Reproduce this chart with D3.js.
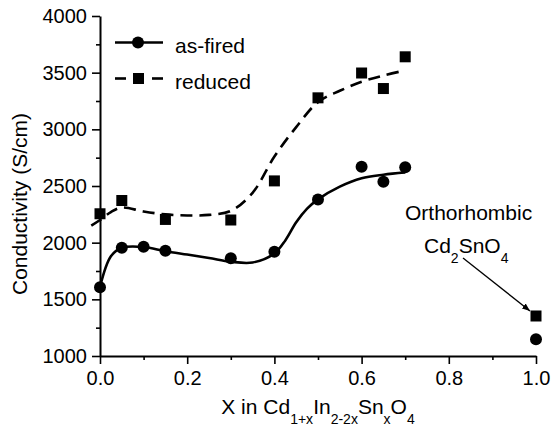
<!DOCTYPE html>
<html>
<head>
<meta charset="utf-8">
<script src="https://cdn.jsdelivr.net/npm/d3@7"></script>
<style>
  html, body { margin: 0; padding: 0; background: #fff; }
  svg { display: block; font-family: "Liberation Sans", Arial, sans-serif; }
</style>
</head>
<body>
<svg id="chart" width="554" height="429"></svg>
<script>
// Measured compositions (x) and conductivities (S/cm)
const xMeasured = [0, 0.05, 0.1, 0.15, 0.3, 0.4, 0.5, 0.6, 0.65, 0.7, 1.0];
const asFired   = [1606, 1956, 1965, 1929, 1862, 1920, 2380, 2670, 2538, 2665, 1147];
const xReduced  = [0, 0.05, 0.15, 0.3, 0.4, 0.5, 0.6, 0.65, 0.7, 1.0];
const reduced   = [2255, 2372, 2205, 2200, 2545, 3278, 3497, 3360, 3640, 1353];

// Smoothed trend curves through the cubic-phase region (x <= 0.7)
const fitXAsFired = [0, 0.025, 0.05, 0.1, 0.15, 0.2, 0.25, 0.3, 0.35, 0.4, 0.425, 0.45, 0.475, 0.5, 0.55, 0.6, 0.65, 0.7];
const fitAsFired  = [1610, 1880, 1955, 1962, 1925, 1895, 1865, 1832, 1825, 1905, 2020, 2180, 2300, 2382, 2494, 2568, 2600, 2620];
const fitXReduced = [-0.02, 0, 0.025, 0.05, 0.1, 0.15, 0.2, 0.25, 0.3, 0.35, 0.4, 0.45, 0.5, 0.55, 0.6, 0.65, 0.7];
const fitReduced  = [2150, 2200, 2270, 2310, 2275, 2250, 2240, 2245, 2280, 2440, 2760, 3020, 3240, 3340, 3420, 3475, 3520];

const xTicks = [0, 0.2, 0.4, 0.6, 0.8, 1.0];
const xMinorTicks = [0.1, 0.3, 0.5, 0.7, 0.9];
const yTicks = [1000, 1500, 2000, 2500, 3000, 3500, 4000];
const yMinorTicks = [1250, 1750, 2250, 2750, 3250, 3750];

const svg = d3.select("#chart");
const plotLeft = 100, plotRight = 536, plotTop = 16, plotBottom = 356;

const x = d3.scaleLinear().domain([0, 1]).range([plotLeft, plotRight]);
const y = d3.scaleLinear().domain([1000, 4000]).range([plotBottom, plotTop]);

// Axes
const xAxis = svg.append("g").attr("transform", `translate(0,${plotBottom})`)
  .call(d3.axisBottom(x).tickValues(xTicks).tickFormat(d3.format(".1f"))
    .tickSizeInner(8).tickSizeOuter(0).tickPadding(5));
svg.append("g").attr("transform", `translate(0,${plotBottom})`)
  .call(d3.axisBottom(x).tickValues(xMinorTicks).tickFormat("").tickSizeInner(4).tickSizeOuter(0))
  .select(".domain").remove();

const yAxis = svg.append("g").attr("transform", `translate(${plotLeft},0)`)
  .call(d3.axisLeft(y).tickValues(yTicks).tickFormat(d3.format("d"))
    .tickSizeInner(8).tickSizeOuter(0).tickPadding(5));
svg.append("g").attr("transform", `translate(${plotLeft},0)`)
  .call(d3.axisLeft(y).tickValues(yMinorTicks).tickFormat("").tickSizeInner(4).tickSizeOuter(0))
  .select(".domain").remove();

svg.selectAll(".domain").attr("stroke", "#000").attr("stroke-width", 2);
svg.selectAll(".tick line").attr("stroke", "#000").attr("stroke-width", 1.6);
svg.selectAll(".tick text").attr("font-size", 20).attr("fill", "#000")
  .attr("font-family", "'Liberation Sans', Arial, sans-serif");
xAxis.selectAll(".tick text").attr("dy", "0.8em");

// Axis titles
svg.append("text")
  .attr("transform", `translate(27,204) rotate(-90)`)
  .attr("text-anchor", "middle").attr("font-size", 21)
  .text("Conductivity (S/cm)");

const xTitle = svg.append("text")
  .attr("x", 318).attr("y", 414).attr("text-anchor", "middle").attr("font-size", 21);
const subParts = [["X in Cd", false], ["1+x", true], ["In", false], ["2-2x", true],
                  ["Sn", false], ["x", true], ["O", false], ["4", true]];
let prevSub = false;
subParts.forEach(([t, sub]) => {
  const ts = xTitle.append("tspan").text(t);
  if (sub) ts.attr("font-size", 14).attr("dy", prevSub ? 0 : 10);
  else if (prevSub) ts.attr("dy", -10);
  prevSub = sub;
});

// Trend curves
const line = d3.line().x(d => x(d[0])).y(d => y(d[1])).curve(d3.curveCatmullRom.alpha(0.5));
svg.append("path")
  .datum(d3.zip(fitXAsFired, fitAsFired))
  .attr("d", line).attr("fill", "none").attr("stroke", "#000").attr("stroke-width", 2.6);
svg.append("path")
  .datum(d3.zip(fitXReduced, fitReduced))
  .attr("d", line).attr("fill", "none").attr("stroke", "#000").attr("stroke-width", 2.6)
  .attr("stroke-dasharray", "12,7");

// Markers
svg.append("g").selectAll("circle")
  .data(d3.zip(xMeasured, asFired)).join("circle")
  .attr("cx", d => x(d[0])).attr("cy", d => y(d[1])).attr("r", 6).attr("fill", "#000");
const sq = 11;
svg.append("g").selectAll("rect")
  .data(d3.zip(xReduced, reduced)).join("rect")
  .attr("x", d => x(d[0]) - sq / 2).attr("y", d => y(d[1]) - sq / 2)
  .attr("width", sq).attr("height", sq).attr("fill", "#000");

// Legend
const lg = svg.append("g");
lg.append("line").attr("x1", 115).attr("x2", 163).attr("y1", 42.5).attr("y2", 42.5)
  .attr("stroke", "#000").attr("stroke-width", 2.6);
lg.append("circle").attr("cx", 138).attr("cy", 42.5).attr("r", 6).attr("fill", "#000");
lg.append("text").attr("x", 175).attr("y", 53).attr("font-size", 21).text("as-fired");
[[115, 126], [152, 163]].forEach(([a, b]) =>
  lg.append("line").attr("x1", a).attr("x2", b).attr("y1", 78.5).attr("y2", 78.5)
    .attr("stroke", "#000").attr("stroke-width", 2.6));
lg.append("rect").attr("x", 133).attr("y", 73).attr("width", sq).attr("height", sq).attr("fill", "#000");
lg.append("text").attr("x", 175).attr("y", 89).attr("font-size", 21).text("reduced");

// Annotation for the orthorhombic end member
svg.append("text").attr("x", 405).attr("y", 220).attr("font-size", 21).text("Orthorhombic");
const cd = svg.append("text").attr("x", 424).attr("y", 253).attr("font-size", 21);
cd.append("tspan").text("Cd");
cd.append("tspan").attr("font-size", 14).attr("dy", 10).text("2");
cd.append("tspan").attr("dy", -10).text("SnO");
cd.append("tspan").attr("font-size", 14).attr("dy", 10).text("4");

svg.append("defs").append("marker")
  .attr("id", "arrow").attr("viewBox", "0 0 10 10").attr("refX", 10).attr("refY", 5)
  .attr("markerWidth", 8).attr("markerHeight", 8).attr("markerUnits", "userSpaceOnUse")
  .attr("orient", "auto")
  .append("path").attr("d", "M0,1 L10,5 L0,9 Z").attr("fill", "#000");
svg.append("line")
  .attr("x1", 463).attr("y1", 258).attr("x2", x(1) - 6).attr("y2", y(reduced[reduced.length - 1]) - 5)
  .attr("stroke", "#000").attr("stroke-width", 1.3).attr("marker-end", "url(#arrow)");
</script>
</body>
</html>
